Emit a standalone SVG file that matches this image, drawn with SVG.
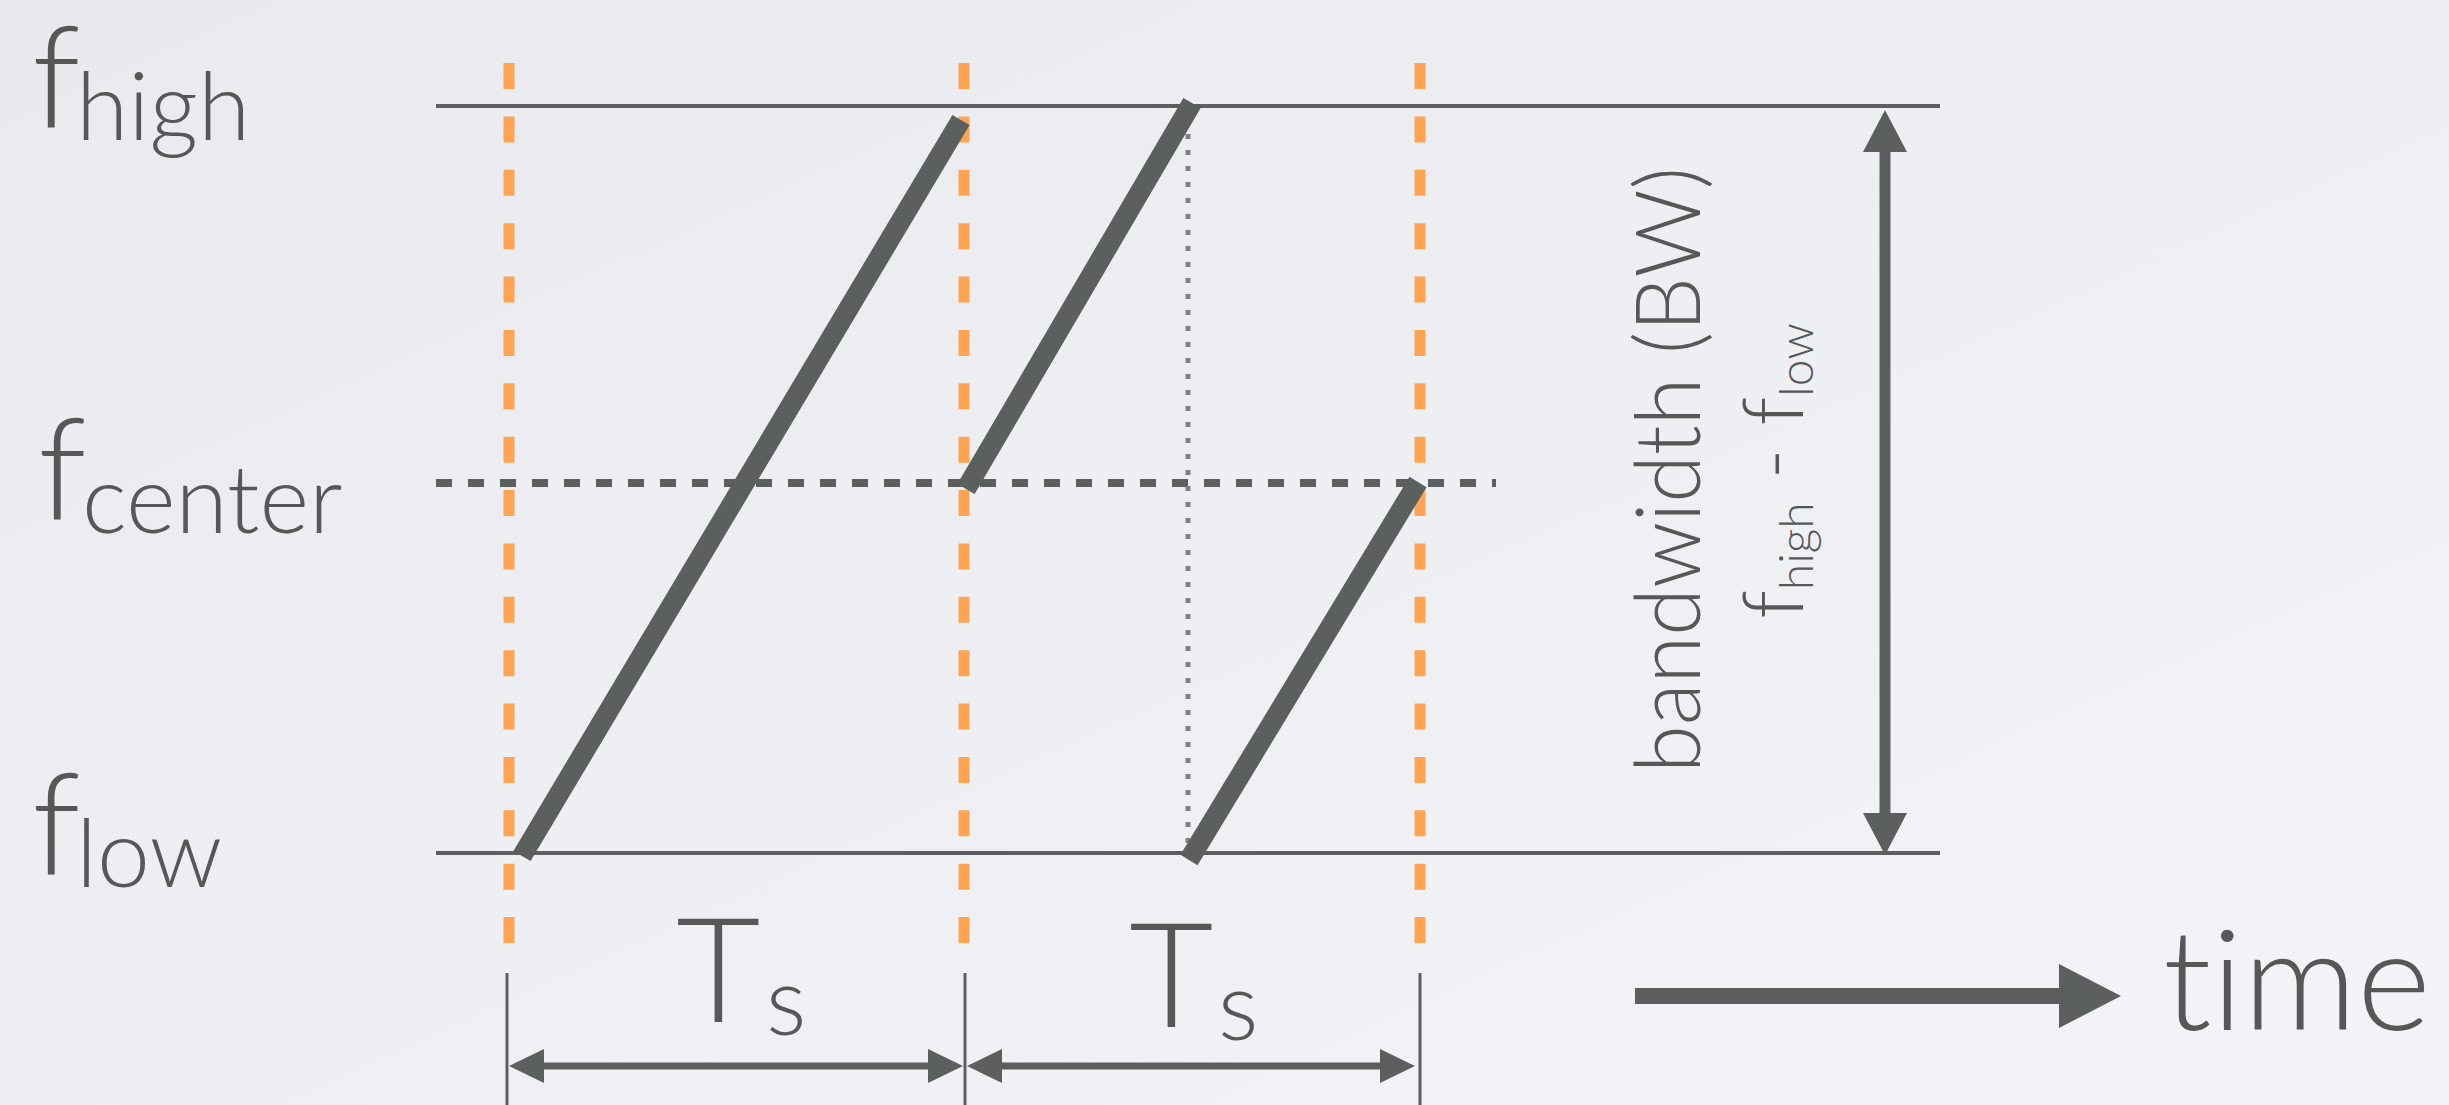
<svg xmlns="http://www.w3.org/2000/svg" width="2449" height="1105" viewBox="0 0 2449 1105">
  <defs>
    <linearGradient id="bg" x1="0" y1="0" x2="1" y2="1">
      <stop offset="0" stop-color="#e8eaed"/>
      <stop offset="1" stop-color="#f3f4f7"/>
    </linearGradient>
    <style>
      .lbl { font-family: Lato, "Open Sans", "Liberation Sans", sans-serif; font-weight: 300; fill: #555857; font-variant-ligatures: none; font-feature-settings: "liga" 0, "clig" 0; }
      .axis { stroke: #5b5f5d; stroke-width: 4; fill: none; }
      .orange { stroke: #ffa452; stroke-width: 11; stroke-dasharray: 26 27.375; fill: none; }
      .ramp { stroke: #5b5f5d; stroke-width: 20; stroke-linecap: butt; fill: none; }
      .tick { stroke: #5b5f5d; stroke-width: 3; fill: none; }
      .head { fill: #5b5f5d; }
    </style>
  </defs>
  <rect x="0" y="0" width="2449" height="1105" fill="url(#bg)"/>

  <g id="guides">
    <line class="orange" x1="509" y1="63" x2="509" y2="945"/>
    <line class="orange" x1="964" y1="63" x2="964" y2="945"/>
    <line class="orange" x1="1420" y1="63" x2="1420" y2="945"/>
    <line x1="436" y1="483" x2="1496" y2="483" stroke="#5b5f5d" stroke-width="8" stroke-dasharray="16 16"/>
    <line x1="1188" y1="102" x2="1188" y2="853" stroke="#7d8280" stroke-width="5" stroke-dasharray="5 11"/>
  </g>

  <g id="axes">
    <line class="axis" x1="436" y1="106" x2="1940" y2="106"/>
    <line class="axis" x1="436" y1="853" x2="1940" y2="853"/>
  </g>

  <g id="ramps">
    <line class="ramp" x1="522" y1="856" x2="961" y2="120"/>
    <line class="ramp" x1="966" y1="489" x2="1192" y2="103"/>
    <line class="ramp" x1="1189" y1="860" x2="1418" y2="482"/>
  </g>

  <g id="connectors">
    <line class="tick" x1="507" y1="973" x2="507" y2="1105"/>
    <line class="tick" x1="965" y1="973" x2="965" y2="1105"/>
    <line class="tick" x1="1420" y1="973" x2="1420" y2="1105"/>
    <line x1="540" y1="1066" x2="931" y2="1066" stroke="#5b5f5d" stroke-width="7"/>
    <polygon class="head" points="509,1066 544,1049 544,1083"/>
    <polygon class="head" points="963,1066 928,1049 928,1083"/>
    <line x1="999" y1="1066" x2="1383" y2="1066" stroke="#5b5f5d" stroke-width="7"/>
    <polygon class="head" points="967,1066 1002,1049 1002,1083"/>
    <polygon class="head" points="1415,1066 1380,1049 1380,1083"/>
    <line x1="1885" y1="148" x2="1885" y2="817" stroke="#5b5f5d" stroke-width="11"/>
    <polygon class="head" points="1885,110 1863,152 1907,152"/>
    <polygon class="head" points="1885,855 1863,813 1907,813"/>
    <rect x="1635" y="988" width="426" height="16" fill="#5b5f5d"/>
    <polygon class="head" points="2059,964 2121,996 2059,1028"/>
  </g>

  <g id="label-fhigh">
    <text class="lbl" x="32" y="128" font-size="142">f</text>
    <text class="lbl" x="76" y="140" font-size="95">high</text>
  </g>
  <g id="label-fcenter">
    <text class="lbl" x="38" y="520" font-size="142">f</text>
    <text class="lbl" x="82" y="533" font-size="95">center</text>
  </g>
  <g id="label-flow">
    <text class="lbl" x="32" y="875" font-size="142">f</text>
    <text class="lbl" x="76" y="887" font-size="95">low</text>
  </g>
  <g id="label-ts1">
    <text class="lbl" x="676" y="1022" font-size="146">T</text>
    <text class="lbl" x="766" y="1035" font-size="95">s</text>
  </g>
  <g id="label-ts2">
    <text class="lbl" x="1129" y="1027" font-size="146">T</text>
    <text class="lbl" x="1218" y="1040" font-size="95">s</text>
  </g>
  <g id="label-time">
    <text class="lbl" x="2163" y="1030" font-size="140" textLength="268" lengthAdjust="spacingAndGlyphs">time</text>
  </g>
  <g id="label-bw">
    <text class="lbl" transform="translate(1700,470) rotate(-90)" x="0" y="0" font-size="90" text-anchor="middle" textLength="606" lengthAdjust="spacingAndGlyphs">bandwidth (BW)</text>
    <text class="lbl" transform="translate(1803,471) rotate(-90)" x="0" y="0" font-size="84" text-anchor="middle"><tspan>f</tspan><tspan font-size="48" dy="10">high</tspan><tspan dy="-10"> - f</tspan><tspan font-size="48" dy="10">low</tspan></text>
  </g>
</svg>
